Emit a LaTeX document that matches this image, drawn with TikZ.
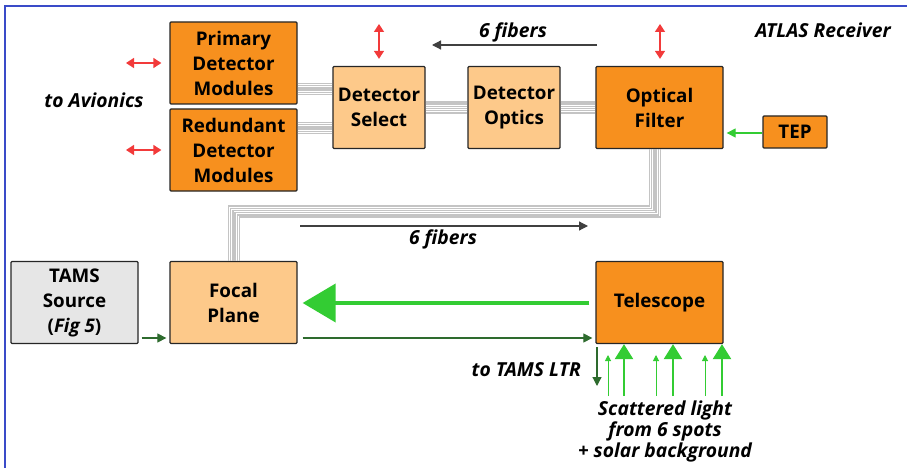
\documentclass[tikz,border=0pt]{standalone}
\usepackage{fontspec}
\setmainfont{Open Sans}
\usetikzlibrary{arrows.meta,calc}
\definecolor{dorange}{HTML}{F7901E}
\definecolor{lorange}{HTML}{FDC98A}
\definecolor{tamsgray}{HTML}{E6E6E6}
\definecolor{myred}{HTML}{F23A3A}
\definecolor{lgreen}{HTML}{33CC33}
\definecolor{dgreen}{HTML}{2E6B2E}
\definecolor{frameblue}{HTML}{3A4BC8}
\definecolor{fibgray}{HTML}{C4C4C4}
\begin{document}
\begin{tikzpicture}[x=1pt,y=-1pt,
  font=\fontsize{18.8}{25}\selectfont\bfseries,
  box/.style={draw=black!85, line width=1.3pt, rounded corners=1pt, align=center, inner sep=0pt},
  dbox/.style={box, fill=dorange},
  lbox/.style={box, fill=lorange},
  gbox/.style={box, fill=tamsgray},
  bigbox/.style={minimum width=127pt, minimum height=82pt},
  midbox/.style={minimum width=92pt, minimum height=82pt},
  lab/.style={font=\fontsize{19.3}{21}\selectfont\bfseries\itshape, align=center, inner sep=0pt},
  redarr/.style={myred, line width=1.4pt, {Triangle[length=8pt,width=10pt]}-{Triangle[length=8pt,width=10pt]}},
  fib/.style={fibgray, line width=1.4pt},
  blkarr/.style={black!75, line width=1.2pt, -{Triangle[length=9pt,width=9pt]}},
  dgarr/.style={dgreen, line width=1.2pt, -{Triangle[length=9pt,width=9pt]}},
  lgthin/.style={lgreen, line width=1pt, -{Triangle[length=6pt,width=6pt]}},
  lgthick/.style={lgreen, line width=2.5pt, -{Triangle[length=15pt,width=18pt]}},
]
\useasboundingbox (0,0) rectangle (907,468);
\draw[frameblue, line width=2pt] (5,468) -- (5,6) -- (907,6);

% nodes
\node[dbox,bigbox] (prim) at (233.5,63) {Primary\\Detector\\Modules};
\node[dbox,bigbox] (redu) at (233.5,150) {Redundant\\Detector\\Modules};
\node[lbox,midbox] (select) at (379,107.5) {Detector\\Select};
\node[lbox,midbox] (optics) at (514,107.5) {Detector\\Optics};
\node[dbox,bigbox] (filter) at (659.5,107.5) {Optical\\Filter};
\node[dbox,minimum width=64pt,minimum height=32pt] (tep) at (795,132) {TEP};
\node[gbox,bigbox] (tams) at (74.5,302.5) {TAMS\\Source\\(\textit{Fig 5})};
\node[lbox,bigbox] (focal) at (233.5,302.5) {Focal\\Plane};
\node[dbox,bigbox] (tele) at (659.5,302.5) {Telescope};

% fiber bundles
\foreach \i [evaluate=\i as \d using 2.2*\i] in {0,...,5}{
  \draw[fib] (prim.east |- 0,83.5+\d) -- (select.west |- 0,83.5+\d);
  \draw[fib] (redu.east |- 0,122.5+\d) -- (select.west |- 0,122.5+\d);
  \draw[fib] (select.east |- 0,102+\d) -- (optics.west |- 0,102+\d);
  \draw[fib] (optics.east |- 0,102+\d) -- (filter.west |- 0,102+\d);
  \draw[fib] (filter.south -| 649.5+\d,0) -- (649.5+\d,206+\d) -- (228.5+\d,206+\d) -- (focal.north -| 228.5+\d,0);
}

% red double arrows
\coordinate (pa) at (126,63);
\coordinate (ra) at (126,150);
\coordinate (sa) at (379,24);
\coordinate (fa) at (660,24);
\draw[redarr] (pa) -- ($(prim.west |- pa)+(-8,0)$);
\draw[redarr] (ra) -- ($(redu.west |- ra)+(-8,0)$);
\draw[redarr] (sa) -- ($(select.north -| sa)+(0,-7)$);
\draw[redarr] (fa) -- ($(filter.north -| fa)+(0,-7)$);

% fibers arrows
\coordinate (t1) at (597,45);
\coordinate (t2) at (432,45);
\draw[blkarr] (t1) -- (t2);
\node[lab] (lf1) at (513,32) {6 fibers};
\coordinate (b1) at (300,226);
\coordinate (b2) at (588,226);
\draw[blkarr] (b1) -- (b2);
\node[lab] (lf2) at (443,239) {6 fibers};

% labels
\node[lab] (avi) at (94,100) {to Avionics};
\node[lab] (atlas) at (823,30) {ATLAS Receiver};

% TEP arrow
\draw[lgreen, line width=1.2pt, -{Triangle[length=9pt,width=9pt]}] (tep.west |- 0,133) -- ($(filter.east |- 0,133)+(3,0)$);

% green main beam
\draw[lgreen, line width=4pt, -{Triangle[length=33pt,width=38pt]}] ($(tele.west)+(-6,0.5)$) -- ($(focal.east)+(5,0.5)$);

% dark green
\draw[dgarr] ($(tams.east |- 0,338)+(3,0)$) -- ($(focal.west |- 0,338)+(-3,0)$);
\draw[dgarr] ($(focal.east |- 0,338)+(5,0)$) -- ($(tele.west |- 0,338)+(-3,0)$);
\coordinate (ltr) at (597,386);
\draw[dgarr] ($(tele.south -| 597,0)+(0,3)$) -- (ltr);
\node[lab, anchor=east] (ltrlab) at (581,370) {to TAMS LTR};

% scattered light arrows
\foreach \x in {608,656,705}{
  \draw[lgthin] (\x,396) -- (\x,355);
}
\foreach \x in {624,673,722}{
  \draw[lgthick] (\x,396) -- (tele.south -| \x,0);
}
\node[lab] (scat) at (665,431) {Scattered light\\from 6 spots\\+ solar background};
\end{tikzpicture}
\end{document}
